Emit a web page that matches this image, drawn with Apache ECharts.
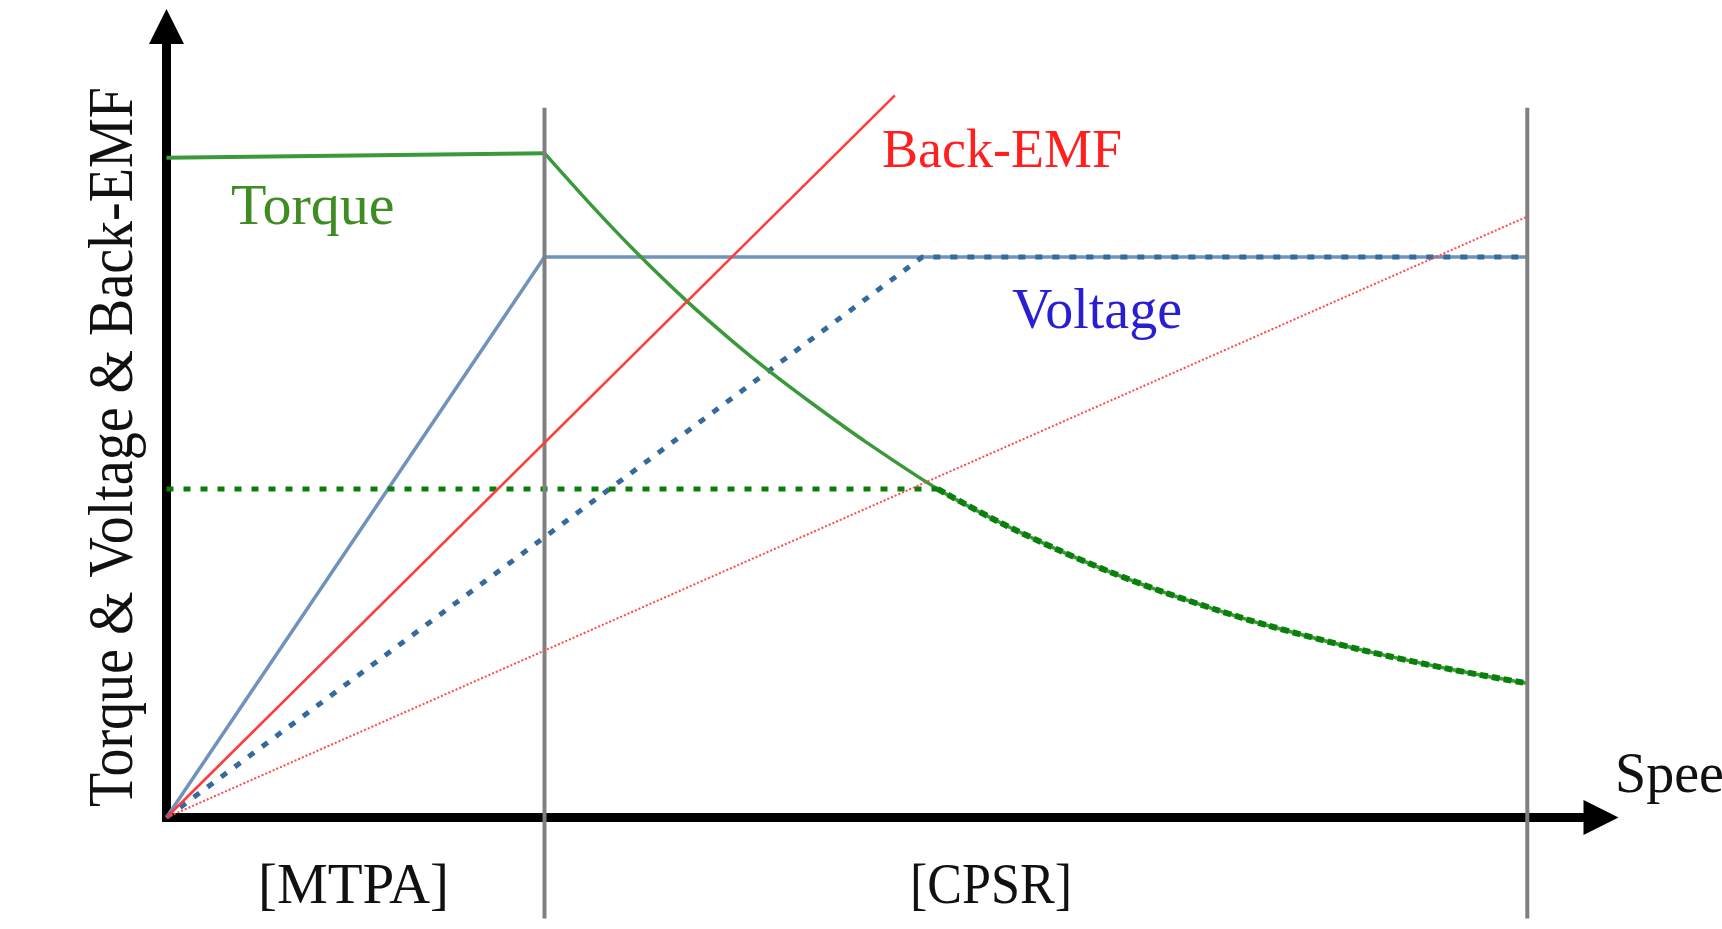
<!DOCTYPE html>
<html>
<head>
<meta charset="utf-8">
<script src="https://cdn.jsdelivr.net/npm/echarts@6.0.0/dist/echarts.min.js"></script>
<style>
  html, body { margin: 0; padding: 0; background: #ffffff; }
  #chart { width: 1722px; height: 929px; }
</style>
</head>
<body>
<div id="chart"></div>
<script>
// ---- data (speed in per-unit of base speed, quantities in per-unit of rated voltage) ----
const regionBoundaries = [1, 3.6];            // end of MTPA, end of CPSR
const boundarySpan = [-0.18, 1.266];          // vertical extent of boundary lines
const regionLabels = ['[MTPA]', '[CPSR]'];
const curveLabels = ['Torque', 'Back-EMF', 'Voltage'];
const axisTitles = ['Torque & Voltage & Back-EMF', 'Speed'];

const torqueMtpa = [[0, 1.177], [1, 1.185]];
const torqueCpsrSpeed = [1, 1.12, 1.24, 1.375, 1.5, 1.593, 1.709, 1.85, 2.04, 2.2, 2.357, 2.5, 2.634, 2.78, 2.911, 3.161, 3.4, 3.602];
const torqueCpsrValue = [1.185, 1.095, 1.010, 0.922, 0.848, 0.797, 0.738, 0.670, 0.586, 0.528, 0.478, 0.437, 0.403, 0.370, 0.343, 0.299, 0.264, 0.239];
const torqueLimitLevel = [[0, 0.586], [2.04, 0.586]];
const voltageRated = [[0, 0], [1, 1], [3.6, 1]];
const voltageLimited = [[0, 0], [2.0, 1], [3.6, 1]];
const backEmfRated = [[0, 0], [1.927, 1.288]];
const backEmfWeak = [[0, 0], [3.6, 1.072]];

const torqueCpsr = torqueCpsrSpeed.map((s, i) => [s, torqueCpsrValue[i]]);
const torqueLimitCurve = torqueCpsr.filter(p => p[0] >= 2.04);

const chart = echarts.init(document.getElementById('chart'), null, { renderer: 'canvas' });
const serif = '"Liberation Serif", "Times New Roman", serif';

function line(name, data, color, width, type, z, extra) {
  return Object.assign({
    name: name, type: 'line', data: data, showSymbol: false, symbol: 'none',
    lineStyle: { color: color, width: width, type: type || 'solid' },
    z: z || 2, animation: false, silent: true
  }, extra || {});
}

const smoothOpt = { smooth: 0.3 };
const series = [];
regionBoundaries.forEach((x, i) => {
  series.push(line('boundary' + i, [[x, boundarySpan[0]], [x, boundarySpan[1]]], '#808080', 4, 'solid', 4, { clip: false }));
});
series.push(line('Voltage', voltageRated, '#6f93bb', 3.5, 'solid', 3));
series.push(line('Voltage limited', voltageLimited, '#346a9c', 5, [7, 10], 3));
series.push(line('Torque MTPA', torqueMtpa, '#3a9a3a', 4, 'solid', 3));
series.push(line('Torque', torqueCpsr, '#3a9a3a', 3.5, 'solid', 3, smoothOpt));
series.push(line('Torque limit', torqueLimitLevel, '#0a7d0a', 5, [7, 10], 3));
series.push(line('Torque limit curve', torqueLimitCurve, '#0b7f0b', 6, [8, 4], 3, smoothOpt));
series.push(line('Back-EMF weak', backEmfWeak, '#ff4a4a', 2, [2, 2], 5));
series.push(line('Back-EMF', backEmfRated, '#ff3c3c', 2.5, 'solid', 5));

function txt(text, x, y, size, color, align, extra) {
  return Object.assign({
    type: 'text', x: x, y: y, silent: true, z: 10,
    style: {
      text: text, font: size + 'px ' + serif, fill: color,
      textAlign: align || 'left', align: align || 'left',
      textVerticalAlign: 'middle', verticalAlign: 'middle'
    }
  }, extra || {});
}

const option = {
  backgroundColor: '#ffffff',
  animation: false,
  grid: { left: 166.5, right: 121, top: 26.5, bottom: 111.5, containLabel: false },
  xAxis: {
    type: 'value', min: 0, max: 3.795,
    axisLine: { show: true, onZero: false, symbol: ['none', 'triangle'], symbolSize: [35, 35],
                lineStyle: { color: '#000', width: 9 } },
    axisTick: { show: false }, axisLabel: { show: false }, splitLine: { show: false }
  },
  yAxis: {
    type: 'value', min: 0, max: 1.411,
    axisLine: { show: true, onZero: false, symbol: ['none', 'triangle'], symbolSize: [35, 35],
                lineStyle: { color: '#000', width: 9, cap: 'square' } },
    axisTick: { show: false }, axisLabel: { show: false }, splitLine: { show: false }
  },
  series: series,
  graphic: [
    txt(curveLabels[0], 231, 209, 58, '#3f8c24'),
    txt(curveLabels[1], 882, 153, 54, '#ff1f1f'),
    txt(curveLabels[2], 1012, 313, 56, '#2a1fd0'),
    txt(regionLabels[0], 258, 888, 57, '#111'),
    txt(regionLabels[1], 991, 888, 56, '#111', 'center', { scaleX: 0.93 }),
    txt(axisTitles[1], 1615, 777, 56, '#111'),
    txt(axisTitles[0], 115, 447, 56, '#111', 'center', { rotation: Math.PI / 2, scaleY: 1.15 })
  ]
};
chart.setOption(option);
</script>
</body>
</html>
